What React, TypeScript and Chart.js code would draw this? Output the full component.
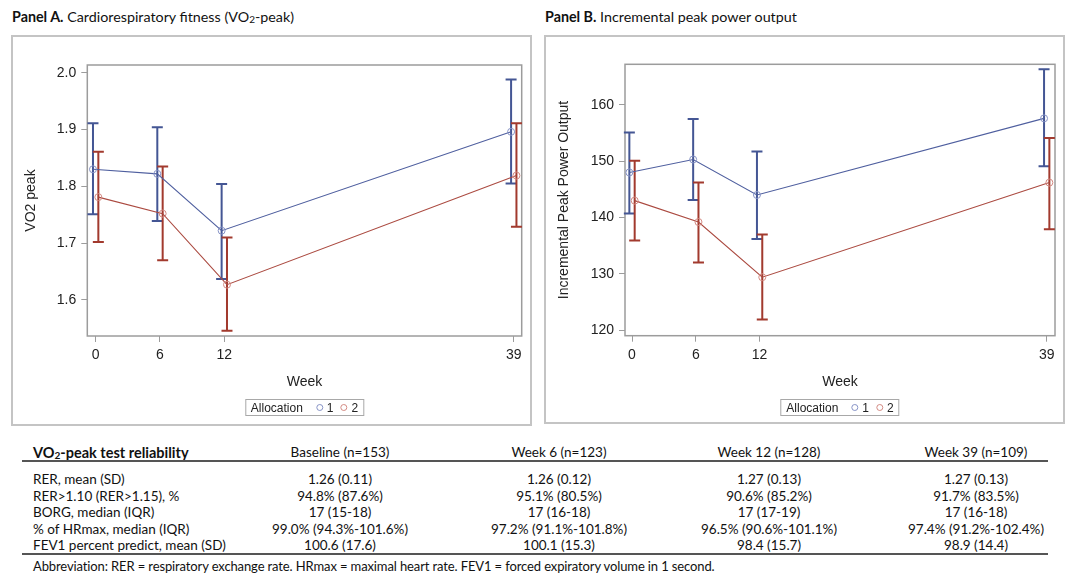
import React, { useEffect, useRef } from "react";
import { Chart, registerables } from "chart.js";

Chart.register(...registerables);

// ---------- DATA ----------
const weeks = [0, 6, 12, 39];
const groupOffsets = [-0.25, 0.25];
const allocationLabels = ["1", "2"];

const vo2Mean1 = [1.83, 1.822, 1.722, 1.896];
const vo2Lower1 = [1.751, 1.739, 1.637, 1.805];
const vo2Upper1 = [1.911, 1.904, 1.804, 1.988];
const vo2Mean2 = [1.781, 1.752, 1.627, 1.819];
const vo2Lower2 = [1.702, 1.67, 1.546, 1.729];
const vo2Upper2 = [1.861, 1.835, 1.71, 1.911];
const vo2Ticks = [1.6, 1.7, 1.8, 1.9, 2.0];

const ppoMean1 = [148.0, 150.3, 144.0, 157.6];
const ppoLower1 = [140.7, 143.1, 136.2, 149.1];
const ppoUpper1 = [155.1, 157.5, 151.7, 166.3];
const ppoMean2 = [143.0, 139.2, 129.4, 146.2];
const ppoLower2 = [135.9, 132.0, 121.9, 137.9];
const ppoUpper2 = [150.1, 146.2, 137.0, 154.1];
const ppoTicks = [120, 130, 140, 150, 160];

const tableHeaders = ["Baseline (n=153)", "Week 6 (n=123)", "Week 12 (n=128)", "Week 39 (n=109)"];
const tableRowLabels = [
  "RER, mean (SD)",
  "RER>1.10 (RER>1.15), %",
  "BORG, median (IQR)",
  "% of HRmax, median (IQR)",
  "FEV1 percent predict, mean (SD)",
];
const rowRer = ["1.26 (0.11)", "1.26 (0.12)", "1.27 (0.13)", "1.27 (0.13)"];
const rowRerPct = ["94.8% (87.6%)", "95.1% (80.5%)", "90.6% (85.2%)", "91.7% (83.5%)"];
const rowBorg = ["17 (15-18)", "17 (16-18)", "17 (17-19)", "17 (16-18)"];
const rowHr = ["99.0% (94.3%-101.6%)", "97.2% (91.1%-101.8%)", "96.5% (90.6%-101.1%)", "97.4% (91.2%-102.4%)"];
const rowFev = ["100.6 (17.6)", "100.1 (15.3)", "98.4 (15.7)", "98.9 (14.4)"];
const tableRows = [rowRer, rowRerPct, rowBorg, rowHr, rowFev];
const abbreviationText =
  "Abbreviation: RER = respiratory exchange rate. HRmax = maximal heart rate. FEV1 = forced expiratory volume in 1 second.";

// ---------- STYLE ----------
const BLUE_LINE = "#4f5f9f";
const BLUE_ERR = "#445694";
const BLUE_MARK = "#8793c6";
const RED_LINE = "#ab4a40";
const RED_ERR = "#A23A2E";
const RED_MARK = "#d38a83";
const AXIS_GRAY = "#9c9c9c";
const SAS_FONT = "'Liberation Sans', Arial, sans-serif";
const DOC_FONT = "Lato, 'Open Sans', sans-serif";

const framePlugin = {
  id: "frame",
  beforeDatasetsDraw(chart: any) {
    const { ctx, chartArea } = chart;
    ctx.save();
    ctx.strokeStyle = AXIS_GRAY;
    ctx.lineWidth = 1.5;
    ctx.strokeRect(chartArea.left, chartArea.top, chartArea.right - chartArea.left, chartArea.bottom - chartArea.top);
    ctx.restore();
  },
};

const errorBarPlugin = {
  id: "errorBars",
  beforeDatasetsDraw(chart: any) {
    const { ctx } = chart;
    const xs = chart.scales.x;
    const ys = chart.scales.y;
    chart.data.datasets.forEach((ds: any) => {
      const eb = ds.errorBars;
      if (!eb) return;
      ctx.save();
      ctx.strokeStyle = eb.color;
      ctx.lineWidth = 2;
      ds.data.forEach((pt: any, j: number) => {
        const x = xs.getPixelForValue(pt.x);
        const yLo = ys.getPixelForValue(eb.lower[j]);
        const yHi = ys.getPixelForValue(eb.upper[j]);
        ctx.beginPath();
        ctx.moveTo(x, yLo);
        ctx.lineTo(x, yHi);
        ctx.moveTo(x - 5.5, yLo);
        ctx.lineTo(x + 5.5, yLo);
        ctx.moveTo(x - 5.5, yHi);
        ctx.lineTo(x + 5.5, yHi);
        ctx.stroke();
      });
      ctx.restore();
    });
  },
};

type Series = {
  label: string;
  mean: number[];
  lower: number[];
  upper: number[];
  offset: number;
  lineColor: string;
  markColor: string;
  errColor: string;
};

type PanelProps = {
  left: number;
  top: number;
  width: number;
  height: number;
  areaLeft: number;
  areaTop: number;
  areaRight: number;
  areaBottom: number;
  xMin: number;
  xMax: number;
  yMin: number;
  yMax: number;
  yTicks: number[];
  yDecimals: number;
  yTitle: string;
  series: Series[];
};

function Panel(p: PanelProps) {
  const ref = useRef<HTMLCanvasElement>(null);
  useEffect(() => {
    if (!ref.current) return;
    const datasets = p.series.map((s) => ({
      label: s.label,
      data: weeks.map((w, i) => ({ x: w + s.offset, y: s.mean[i] })),
      borderColor: s.lineColor,
      borderWidth: 1.1,
      pointRadius: 3.5,
      pointBorderWidth: 1,
      pointBorderColor: s.markColor,
      pointBackgroundColor: "rgba(255,255,255,0)",
      fill: false,
      tension: 0,
      errorBars: { lower: s.lower, upper: s.upper, color: s.errColor },
    }));
    const chart = new Chart(ref.current, {
      type: "line",
      data: { datasets } as any,
      options: {
        animation: false,
        responsive: false,
        devicePixelRatio: 1,
        layout: { padding: { left: 0, top: p.areaTop, right: p.width - p.areaRight, bottom: 0 } },
        plugins: { legend: { display: false }, tooltip: { enabled: false } },
        scales: {
          x: {
            type: "linear",
            min: p.xMin,
            max: p.xMax,
            afterBuildTicks: (s: any) => {
              s.ticks = weeks.map((v) => ({ value: v }));
            },
            afterFit: (s: any) => {
              s.height = p.height - p.areaBottom;
            },
            ticks: {
              autoSkip: false,
              maxRotation: 0,
              padding: 5,
              color: "#222",
              font: { family: SAS_FONT, size: 14 },
              callback: (v: any) => String(v),
            },
            grid: { display: true, drawOnChartArea: false, drawTicks: true, tickLength: 6, color: AXIS_GRAY },
            border: { display: false },
            title: {
              display: true,
              text: "Week",
              color: "#222",
              font: { family: SAS_FONT, size: 14 },
              padding: { top: 0, bottom: p.height - p.areaBottom - 46 - 8.4 },
            },
          },
          y: {
            type: "linear",
            min: p.yMin,
            max: p.yMax,
            afterBuildTicks: (s: any) => {
              s.ticks = p.yTicks.map((v) => ({ value: v }));
            },
            afterFit: (s: any) => {
              s.width = p.areaLeft;
            },
            ticks: {
              padding: 5,
              color: "#222",
              font: { family: SAS_FONT, size: 14 },
              callback: (v: any) => Number(v).toFixed(p.yDecimals),
            },
            grid: { display: true, drawOnChartArea: false, drawTicks: true, tickLength: 6, color: AXIS_GRAY },
            border: { display: false },
            title: {
              display: true,
              text: p.yTitle,
              color: "#222",
              font: { family: SAS_FONT, size: 14 },
              padding: { top: 11, bottom: 0 },
            },
          },
        },
      },
      plugins: [framePlugin, errorBarPlugin],
    } as any);
    return () => chart.destroy();
  }, []);
  return (
    <canvas
      ref={ref}
      width={p.width}
      height={p.height}
      style={{ position: "absolute", left: p.left, top: p.top, width: p.width, height: p.height }}
    />
  );
}

function Legend({ centerX, top }: { centerX: number; top: number }) {
  const marker = (c: string) => (
    <span
      style={{
        display: "inline-block",
        width: 5,
        height: 5,
        border: `1px solid ${c}`,
        borderRadius: "50%",
        marginRight: 4,
      }}
    />
  );
  return (
    <div
      style={{
        position: "absolute",
        left: centerX,
        top,
        transform: "translateX(-50%)",
        height: 17,
        boxSizing: "border-box",
        border: "1px solid #a8a8a8",
        padding: "0 5px",
        display: "flex",
        alignItems: "center",
        fontFamily: SAS_FONT,
        fontSize: 12,
        color: "#222",
        whiteSpace: "nowrap",
      }}
    >
      <span style={{ marginRight: 13 }}>Allocation</span>
      {marker(BLUE_MARK)}
      <span style={{ marginRight: 7 }}>{allocationLabels[0]}</span>
      {marker(RED_MARK)}
      <span>{allocationLabels[1]}</span>
    </div>
  );
}

const Sub2 = () => (
  <sub style={{ fontSize: "0.7em", verticalAlign: "-0.15em", lineHeight: 0 }}>2</sub>
);

const colCenters = [340, 559, 769, 976];
const rowCenters = [479, 495.5, 512, 528.5, 545];

export default function App() {
  const seriesVo2: Series[] = [
    { label: allocationLabels[0], mean: vo2Mean1, lower: vo2Lower1, upper: vo2Upper1, offset: groupOffsets[0], lineColor: BLUE_LINE, markColor: BLUE_MARK, errColor: BLUE_ERR },
    { label: allocationLabels[1], mean: vo2Mean2, lower: vo2Lower2, upper: vo2Upper2, offset: groupOffsets[1], lineColor: RED_LINE, markColor: RED_MARK, errColor: RED_ERR },
  ];
  const seriesPpo: Series[] = [
    { label: allocationLabels[0], mean: ppoMean1, lower: ppoLower1, upper: ppoUpper1, offset: groupOffsets[0], lineColor: BLUE_LINE, markColor: BLUE_MARK, errColor: BLUE_ERR },
    { label: allocationLabels[1], mean: ppoMean2, lower: ppoLower2, upper: ppoUpper2, offset: groupOffsets[1], lineColor: RED_LINE, markColor: RED_MARK, errColor: RED_ERR },
  ];

  const abs = (l: number, t: number): React.CSSProperties => ({ position: "absolute", left: l, top: t });
  const centered = (x: number, y: number): React.CSSProperties => ({
    position: "absolute",
    left: x,
    top: y,
    transform: "translate(-50%, -50%)",
    whiteSpace: "nowrap",
  });
  const leftMid = (x: number, y: number): React.CSSProperties => ({
    position: "absolute",
    left: x,
    top: y,
    transform: "translateY(-50%)",
    whiteSpace: "nowrap",
  });

  const bodySize = 13.5;

  return (
    <div
      style={{
        position: "absolute",
        left: 0,
        top: 0,
        width: 1070,
        height: 575,
        background: "#fff",
        fontFamily: DOC_FONT,
        color: "#111",
        overflow: "hidden",
      }}
    >
      {/* Panel titles */}
      <div style={{ ...leftMid(12, 16), fontSize: 14.3 }}>
        <b>Panel A.</b> Cardiorespiratory fitness (VO<Sub2 />-peak)
      </div>
      <div style={{ ...leftMid(545, 16), fontSize: 14.3 }}>
        <b>Panel B.</b> Incremental peak power output
      </div>

      {/* Panel boxes */}
      <div style={{ ...abs(11, 35), width: 521, height: 391, boxSizing: "border-box", border: "2px solid #c4c4c4" }} />
      <div style={{ ...abs(544, 35), width: 521, height: 389, boxSizing: "border-box", border: "2px solid #c4c4c4" }} />

      <Panel
        left={12}
        top={36}
        width={519}
        height={389}
        areaLeft={75.3}
        areaTop={29}
        areaRight={509.7}
        areaBottom={300}
        xMin={-0.78}
        xMax={39.74}
        yMin={1.5366}
        yMax={2.0136}
        yTicks={vo2Ticks}
        yDecimals={1}
        yTitle="VO2 peak"
        series={seriesVo2}
      />
      <Panel
        left={545}
        top={36}
        width={519}
        height={388}
        areaLeft={80}
        areaTop={28.3}
        areaRight={510}
        areaBottom={299.7}
        xMin={-0.66}
        xMax={39.78}
        yMin={119.02}
        yMax={167.2}
        yTicks={ppoTicks}
        yDecimals={0}
        yTitle="Incremental Peak Power Output"
        series={seriesPpo}
      />

      <Legend centerX={304.5} top={399} />
      <Legend centerX={840} top={399} />

      {/* Table */}
      <div style={{ ...leftMid(33, 452), fontSize: 14.5, fontWeight: 700 }}>
        VO<Sub2 />-peak test reliability
      </div>
      {tableHeaders.map((h, i) => (
        <div key={h} style={{ ...centered(colCenters[i], 452), fontSize: bodySize }}>
          {h}
        </div>
      ))}
      <div style={{ ...abs(22, 460), width: 1026, height: 2, background: "#555" }} />
      {tableRowLabels.map((lab, r) => (
        <React.Fragment key={lab}>
          <div style={{ ...leftMid(33, rowCenters[r]), fontSize: bodySize }}>{lab}</div>
          {tableRows[r].map((v, c) => (
            <div key={c} style={{ ...centered(colCenters[c], rowCenters[r]), fontSize: bodySize }}>
              {v}
            </div>
          ))}
        </React.Fragment>
      ))}
      <div style={{ ...abs(22, 553), width: 1026, height: 2, background: "#555" }} />
      <div style={{ ...leftMid(33, 566), fontSize: 13, letterSpacing: -0.12 }}>{abbreviationText}</div>
    </div>
  );
}
